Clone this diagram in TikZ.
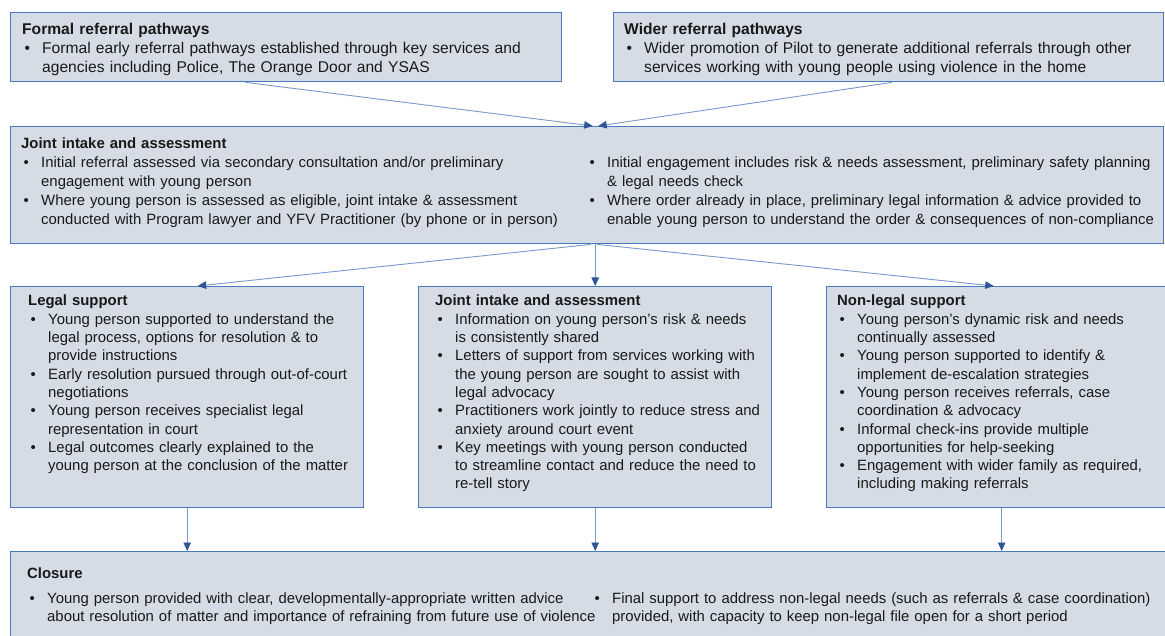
\documentclass[tikz,border=0pt]{standalone}
\usepackage{fontspec}
\setmainfont{Liberation Sans}
\usetikzlibrary{arrows.meta}

\definecolor{boxfill}{RGB}{214,220,229}
\definecolor{boxline}{RGB}{74,122,190}
\definecolor{linkline}{RGB}{120,152,206}
\definecolor{linkhead}{RGB}{47,85,151}
\definecolor{bodytext}{RGB}{25,25,25}

% bullet item with hanging indent; \newline breaks lines by hand
\newlength\bhang
\setlength\bhang{20pt}
\newcommand\bl[1]{\hangindent=\bhang\hangafter=1\noindent\makebox[\bhang][l]{\hspace{2.5pt}\textbullet}#1\par}
\newcommand\hd[1]{\noindent\textbf{#1}\par}

\begin{document}
\begin{tikzpicture}[x=1pt,y=-1pt,
  panel/.style={draw=boxline,line width=1.4pt,fill=boxfill,anchor=north west,inner sep=0pt},
  txt/.style={anchor=base west,inner sep=0pt,align=left,text=bodytext,
              font=\fontsize{14.9}{19}\selectfont},
  txttop/.style={txt,font=\fontsize{15.6}{19}\selectfont},
  txtmid/.style={txt,font=\fontsize{14.9}{18.3}\selectfont},
  link/.style={draw=linkline,line width=0.9pt,
               -{Triangle[length=8.5pt,width=7.5pt,color=linkhead]}}]

\useasboundingbox (0,0) rectangle (1165,636);
\clip (0,0) rectangle (1165,636);

% ---- boxes
\node[panel,minimum width=551pt,minimum height=69pt] (formal) at (10,12) {};
\node[panel,minimum width=550pt,minimum height=69pt] (wider) at (613,12) {};
\node[panel,minimum width=1153pt,minimum height=117pt] (joint) at (10,126) {};
\node[panel,minimum width=353pt,minimum height=221pt] (legal) at (10,286) {};
\node[panel,minimum width=353pt,minimum height=221pt] (shared) at (418,286) {};
\node[panel,minimum width=350pt,minimum height=221pt] (nonlegal) at (826,286) {};
\node[panel,minimum width=1170pt,minimum height=110pt] (closure) at (10,551) {};

% ---- texts
\node[txttop,text width=545pt] (formalt) at (22,35) {\hd{Formal referral pathways}
\bl{Formal early referral pathways established through key services and\newline agencies including Police, The Orange Door and YSAS}};

\node[txttop,text width=545pt] (widert) at (624,35) {\hd{Wider referral pathways}
\bl{Wider promotion of Pilot to generate additional referrals through other\newline services working with young people using violence in the home}};

\node[txt,text width=565pt] (jointl) at (21,149) {\hd{Joint intake and assessment}
\bl{Initial referral assessed via secondary consultation and/or preliminary\newline engagement with young person}
\bl{Where young person is assessed as eligible, joint intake \& assessment\newline conducted with Program lawyer and YFV Practitioner (by phone or in person)}};

\node[txt,text width=575pt] (jointr) at (587,168) {\bl{Initial engagement includes risk \& needs assessment, preliminary safety planning\newline \& legal needs check}
\bl{Where order already in place, preliminary legal information \& advice provided to\newline enable young person to understand the order \& consequences of non-compliance}};

\node[txtmid,text width=345pt] (legalt) at (28,306) {\hd{Legal support}
\bl{Young person supported to understand the\newline legal process, options for resolution \& to\newline provide instructions}
\bl{Early resolution pursued through out-of-court\newline negotiations}
\bl{Young person receives specialist legal\newline representation in court}
\bl{Legal outcomes clearly explained to the\newline young person at the conclusion of the matter}};

\node[txtmid,text width=345pt] (sharedt) at (435,306) {\hd{Joint intake and assessment}
\bl{Information on young person’s risk \& needs\newline is consistently shared}
\bl{Letters of support from services working with\newline the young person are sought to assist with\newline legal advocacy}
\bl{Practitioners work jointly to reduce stress and\newline anxiety around court event}
\bl{Key meetings with young person conducted\newline to streamline contact and reduce the need to\newline re-tell story}};

\node[txtmid,text width=330pt] (nonlegalt) at (837,306) {\hd{Non-legal support}
\bl{Young person’s dynamic risk and needs\newline continually assessed}
\bl{Young person supported to identify \&\newline implement de-escalation strategies}
\bl{Young person receives referrals, case\newline coordination \& advocacy}
\bl{Informal check-ins provide multiple\newline opportunities for help-seeking}
\bl{Engagement with wider family as required,\newline including making referrals}};

\node[txt] (closureh) at (27,578) {\textbf{Closure}};
\node[txtmid,text width=580pt] (closurel) at (27,603) {\bl{Young person provided with clear, developmentally-appropriate written advice\newline about resolution of matter and importance of refraining from future use of violence}};
\node[txtmid,text width=580pt] (closurer) at (592,603) {\bl{Final support to address non-legal needs (such as referrals \& case coordination)\newline provided, with capacity to keep non-legal file open for a short period}};

% ---- connectors
\draw[link] ([xshift=-40.5pt]formal.south) -- ([xshift=5.5pt]joint.north);
\draw[link] ([xshift=3pt]wider.south) -- ([xshift=11pt]joint.north);

\draw[link] ([xshift=3.5pt]joint.south) -- ([xshift=10.5pt]legal.north);
\draw[link] ([xshift=8pt]joint.south) -- (shared.north);
\draw[link] ([xshift=10pt]joint.south) -- ([xshift=-8pt]nonlegal.north);

\draw[link] (legal.south) -- (legal.south |- closure.north);
\draw[link] (shared.south) -- (shared.south |- closure.north);
\draw[link] (nonlegal.south) -- (nonlegal.south |- closure.north);
\end{tikzpicture}
\end{document}
